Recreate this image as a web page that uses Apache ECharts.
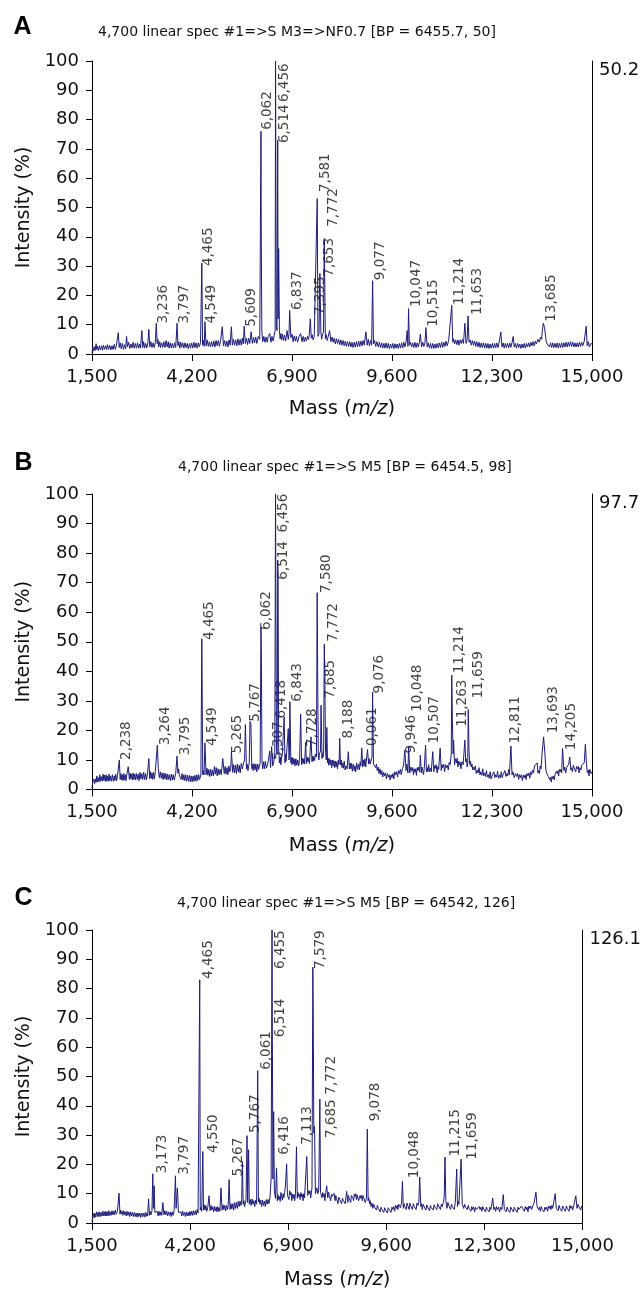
<!DOCTYPE html>
<html><head><meta charset="utf-8">
<script src="https://cdn.jsdelivr.net/npm/echarts@6/dist/echarts.min.js"></script>
<style>html,body{margin:0;padding:0;background:#fff}#c{width:644px;height:1291px}</style>
</head><body><div id="c"></div><script>
// ---------- data ----------
const xTickValues = [1500, 4200, 6900, 9600, 12300, 15000];
const panelLetters = ['A', 'B', 'C'];
const panelTitles = [
  '4,700 linear spec #1=>S M3=>NF0.7 [BP = 6455.7, 50]',
  '4,700 linear spec #1=>S M5 [BP = 6454.5, 98]',
  '4,700 linear spec #1=>S M5 [BP = 64542, 126]'
];
const absMax = [50.2, 97.7, 126.1];

const specA = [[1500,0.5],[1520,2],[1540,1],[1560,2.5],[1585,1.2],[1610,3.5],[1630,1.5],[1650,2.6],[1675,1.2],[1700,2.8],[1730,1.4],[1760,2.8],[1785,1.3],[1810,3],[1840,1.6],[1870,2.8],[1895,1.5],[1920,3.2],[1950,1.6],[1980,2.9],[2010,1.4],[2040,2.8],[2070,1.5],[2100,3.3],[2130,1.6],[2160,3],[2210,7.3],[2235,2.2],[2260,3.8],[2290,1.8],[2320,3.6],[2350,1.6],[2380,3.2],[2410,1.8],[2433,6],[2460,2.5],[2490,4],[2520,1.9],[2550,3.4],[2580,2.1],[2610,4],[2640,2],[2670,3.6],[2700,2],[2730,3.8],[2760,2],[2790,3.4],[2810,2],[2846,8],[2870,2.2],[2895,4.2],[2920,2],[2950,3.6],[2980,2.1],[3010,4],[3035,8.4],[3060,2.4],[3090,4.2],[3120,2.2],[3150,3.8],[3180,2.2],[3210,4],[3236,10.5],[3260,3.5],[3280,5],[3300,2.4],[3330,4.2],[3350,2.2],[3380,3.8],[3410,2.3],[3440,4.2],[3470,2.2],[3500,4.6],[3530,2.4],[3560,4.2],[3580,2],[3610,3.8],[3640,2.1],[3670,3.6],[3700,2],[3730,3.8],[3760,2.2],[3797,10.5],[3820,2.8],[3845,4.2],[3870,2],[3895,4],[3920,2.3],[3950,3.8],[3980,2],[4010,3.8],[4040,2.2],[4070,3.6],[4100,1.8],[4130,3.6],[4160,2],[4190,3.8],[4220,2],[4250,4],[4280,2.2],[4310,3.8],[4340,2],[4370,3.8],[4400,2.4],[4430,4],[4465,31],[4485,3],[4510,4.6],[4530,2.6],[4549,11],[4580,2.8],[4610,4.8],[4640,2.6],[4670,4.2],[4700,2.4],[4730,4.2],[4760,2.6],[4790,4.4],[4820,2.4],[4850,4.6],[4880,2.8],[4910,4.6],[4940,2.6],[4970,4.4],[5018,9.3],[5050,2.8],[5080,4.6],[5110,2.6],[5140,4.4],[5170,2.4],[5200,4.8],[5230,3],[5263,9.3],[5290,3],[5320,5],[5350,3],[5380,4.8],[5410,2.8],[5440,5.2],[5470,3],[5500,5],[5530,3],[5560,5.4],[5585,3.4],[5609,9.5],[5640,3.6],[5670,5.4],[5700,3.2],[5730,5.4],[5760,3.6],[5798,7.6],[5830,3.6],[5860,5.6],[5890,3.8],[5920,5.8],[5950,3.6],[5990,6],[6030,5],[6062,76],[6070,41],[6085,8],[6110,4.2],[6140,6],[6170,4],[6200,5.8],[6230,4],[6260,6],[6299,7],[6330,4],[6360,6],[6390,4.4],[6420,6.4],[6445,8],[6456,100],[6475,10],[6495,8],[6514,73],[6525,12],[6540,36],[6560,8],[6580,5.2],[6600,7],[6620,4.8],[6645,6.8],[6670,4.6],[6700,6.4],[6730,4.4],[6766,8],[6800,5],[6820,7],[6837,14.8],[6870,5.6],[6900,6.8],[6930,4.2],[6960,6.2],[6990,4.4],[7020,6],[7050,4],[7090,6],[7134,7],[7170,4.2],[7200,6],[7230,4.2],[7260,5.8],[7290,4.4],[7320,6],[7345,5],[7365,6.5],[7395,12],[7420,5.4],[7445,6.6],[7470,4.8],[7500,6],[7540,6.5],[7581,53],[7600,6],[7630,7],[7653,27.5],[7680,7.5],[7700,5],[7720,6.5],[7750,7.5],[7772,39.4],[7800,5.2],[7825,6.6],[7850,4.6],[7880,6],[7915,8],[7950,4.2],[7980,5.8],[8010,4],[8040,5.4],[8070,3.4],[8100,5.2],[8130,3.6],[8160,5],[8190,3.2],[8220,4.8],[8250,3],[8280,4.6],[8310,2.8],[8340,4.4],[8370,2.6],[8400,4.2],[8430,2.6],[8460,4.2],[8490,2.4],[8520,4],[8550,2.2],[8580,4],[8610,2.4],[8640,4.2],[8670,2.4],[8700,4.4],[8730,2.6],[8760,4.4],[8790,2.8],[8820,4.6],[8850,3],[8895,7.6],[8930,3],[8960,5],[8990,2.8],[9020,4.6],[9050,3],[9077,25],[9100,3.4],[9130,4.6],[9160,2.6],[9190,4.2],[9230,2.4],[9260,4],[9290,2.2],[9320,3.8],[9350,2],[9380,3.6],[9410,2],[9440,3.8],[9470,2],[9500,3.6],[9530,1.8],[9560,3.4],[9590,2],[9620,3.6],[9650,1.8],[9680,3.5],[9710,2],[9740,3.4],[9770,1.9],[9800,3.6],[9830,2],[9860,3.8],[9890,2.1],[9920,4],[9950,2.4],[9980,4.2],[10009,8],[10030,2.6],[10047,15.5],[10070,3],[10100,4],[10130,2.4],[10160,3.8],[10190,2.2],[10220,4],[10250,2.2],[10280,3.8],[10310,2.4],[10340,4],[10365,6.8],[10400,2.4],[10430,4],[10460,2.6],[10490,3.8],[10515,9],[10550,2.4],[10580,3.8],[10610,2],[10640,3.6],[10670,1.9],[10700,3.6],[10730,1.9],[10760,3.4],[10790,2],[10820,3.6],[10850,2.1],[10880,3.8],[10910,2.2],[10940,4],[10970,2.3],[11000,4],[11030,2.6],[11060,4.4],[11090,2.8],[11130,4.6],[11170,4.5],[11214,16.6],[11240,4],[11265,5.2],[11290,3.4],[11320,4.8],[11350,3.2],[11380,4.8],[11410,3],[11440,4.8],[11470,3.6],[11500,5],[11530,3.6],[11568,10.5],[11600,3.6],[11630,5],[11653,13],[11680,4],[11710,4.8],[11740,3],[11770,4.6],[11800,3],[11830,4.4],[11860,2.6],[11890,4.2],[11920,2.4],[11950,4],[11980,2.2],[12010,3.8],[12040,2.2],[12070,3.8],[12100,2],[12130,3.6],[12160,2],[12190,3.6],[12220,1.9],[12250,3.4],[12280,2],[12310,3.6],[12340,2],[12370,3.6],[12400,2.1],[12430,3.8],[12460,2.2],[12490,3.8],[12538,7.5],[12570,2.4],[12600,3.8],[12630,2],[12660,3.6],[12690,2.2],[12720,3.6],[12750,2.1],[12780,3.8],[12810,2.3],[12840,3.8],[12872,6],[12900,2.4],[12930,3.6],[12960,2],[12990,3.6],[13020,2.2],[13050,3.4],[13080,1.9],[13110,3.4],[13140,2.1],[13170,3.6],[13200,2],[13230,3.6],[13260,2.4],[13290,3.8],[13320,2.4],[13350,4],[13380,2.8],[13410,4.2],[13440,2.8],[13470,4.4],[13500,3.4],[13540,5],[13580,4],[13610,5.8],[13640,5],[13660,8],[13685,10.5],[13720,9],[13760,4.6],[13790,3.4],[13820,4],[13850,2.4],[13880,3.8],[13910,2.2],[13940,3.8],[13970,2.2],[14000,3.6],[14030,2.2],[14060,3.8],[14090,2],[14120,3.6],[14150,2.2],[14180,3.8],[14210,2.2],[14240,3.8],[14270,2.4],[14300,4],[14330,2.4],[14360,4],[14390,2.6],[14420,4.2],[14450,2.6],[14480,4],[14510,2.4],[14540,3.8],[14570,2.4],[14600,3.8],[14630,2.4],[14660,4],[14690,2.6],[14720,4],[14750,2.8],[14790,4.4],[14843,9.5],[14870,2.8],[14900,4.2],[14930,2.4],[14970,3.6],[15000,3.4]];

const specB = [[1500,0.5],[1520,2.5],[1550,3.5],[1570,2],[1590,3.6],[1610,2.4],[1630,4.6],[1650,2.6],[1670,4],[1690,2.6],[1710,5],[1730,2.8],[1750,4.4],[1775,2.8],[1800,5.2],[1820,3],[1840,4.8],[1860,2.8],[1880,5],[1900,2.8],[1920,4.6],[1940,2.8],[1960,5.2],[1980,3],[2000,4.6],[2025,2.8],[2050,5],[2075,2.8],[2100,4.6],[2120,3],[2140,5.2],[2165,3],[2190,4.8],[2238,10],[2260,3.4],[2280,5.4],[2300,3.2],[2320,5],[2340,3],[2360,5.4],[2380,3.2],[2400,5],[2420,3],[2440,5],[2478,7.7],[2510,3.4],[2530,5.6],[2550,3.6],[2570,5.2],[2590,3.2],[2610,5.6],[2630,3.4],[2650,5.2],[2670,3.2],[2695,5.4],[2720,3.4],[2745,5.2],[2770,3],[2795,5.8],[2820,3.6],[2845,5.4],[2870,3.4],[2895,5.8],[2920,3.4],[2945,5.4],[2970,3.2],[3000,5.6],[3035,10.5],[3060,3.6],[3080,6],[3100,3.8],[3120,5.6],[3140,3.4],[3160,5.8],[3185,3.6],[3210,6.2],[3230,6],[3264,15],[3290,7],[3320,4],[3345,6],[3370,3.8],[3395,5.6],[3420,3.4],[3445,5.6],[3470,3.6],[3495,5.4],[3520,3.2],[3545,5.2],[3570,3.4],[3595,5],[3620,3],[3645,5.2],[3670,3.2],[3695,5],[3720,3.2],[3760,5.5],[3795,11.3],[3820,5.5],[3840,7],[3860,4.6],[3880,5],[3905,3.4],[3930,5.4],[3955,3.2],[3980,5],[4005,3],[4030,5],[4055,2.8],[4080,4.8],[4105,2.8],[4130,4.8],[4155,2.6],[4180,4.6],[4205,2.6],[4230,4.6],[4255,2.8],[4280,4.8],[4305,2.8],[4330,5],[4355,3],[4380,5],[4405,3.4],[4440,5],[4465,51],[4490,5],[4510,6.4],[4525,5],[4549,15.8],[4580,5],[4605,7.2],[4630,4.8],[4655,6.8],[4680,4.4],[4705,6.8],[4730,4.6],[4755,6.6],[4780,4.6],[4805,7.8],[4830,5.2],[4855,7.4],[4880,4.6],[4905,7],[4930,5],[4960,6.8],[4990,5],[5030,10.5],[5070,5.4],[5095,7.8],[5120,5.2],[5145,7.4],[5170,5],[5195,8],[5220,6],[5245,7],[5265,12.8],[5300,5.8],[5325,8.4],[5350,5.6],[5375,8.2],[5400,5.4],[5425,8.6],[5450,6],[5475,8.2],[5500,5.6],[5530,8.8],[5560,7],[5590,9],[5620,10],[5642,22],[5670,7],[5690,8.6],[5710,6.4],[5745,9],[5767,23],[5790,22],[5815,7],[5835,8.6],[5850,6.4],[5875,8.8],[5900,6.6],[5925,8.6],[5950,6],[5975,8.6],[6000,6.8],[6040,9],[6062,55],[6072,47],[6090,9],[6110,7],[6130,9.4],[6155,7],[6180,9.6],[6210,7.2],[6250,9],[6299,13],[6320,7.4],[6350,14.5],[6380,8],[6410,9.5],[6435,12],[6456,100],[6466,60],[6480,14],[6500,12],[6514,77.5],[6524,72],[6540,14],[6560,9],[6580,11],[6600,8.4],[6620,10.8],[6640,12],[6688,24.6],[6710,9],[6725,12],[6740,9.6],[6770,10],[6800,20.6],[6820,10],[6830,12],[6843,29.7],[6870,9],[6885,10.8],[6900,8.4],[6920,10.8],[6940,8.6],[6960,10.4],[6980,8],[7005,10.4],[7030,8.2],[7055,10],[7080,8],[7105,9.8],[7134,25.5],[7160,8.4],[7180,10.6],[7200,8.8],[7220,10.4],[7240,8.6],[7268,16],[7290,8.8],[7310,11],[7330,9.4],[7350,10.6],[7370,8.8],[7413,17.8],[7440,9.4],[7455,11.2],[7470,9.6],[7490,11.2],[7510,9.8],[7530,12],[7560,11],[7580,66.6],[7592,40.6],[7610,12],[7625,10],[7640,12],[7670,13],[7685,28.5],[7710,10.4],[7725,12.4],[7740,11],[7755,14],[7772,49.2],[7785,40.6],[7805,13],[7825,10],[7840,21],[7860,9],[7875,10.6],[7890,8.2],[7910,10.4],[7930,8.4],[7950,10],[7970,7.4],[7990,10],[8010,8],[8030,9.8],[8050,7.4],[8070,9.6],[8090,7.6],[8110,9.4],[8130,7],[8150,10],[8170,8.4],[8188,17.3],[8210,8.4],[8230,10],[8250,7.4],[8270,9],[8290,7.2],[8310,9.6],[8335,6.6],[8360,8],[8390,7],[8420,12.8],[8450,7],[8470,9],[8490,7],[8510,8.8],[8530,6.2],[8555,8.6],[8580,6.4],[8600,8],[8620,6],[8645,9],[8670,6.8],[8695,8.6],[8720,6.6],[8740,9.4],[8760,8],[8783,14],[8810,7.6],[8830,10],[8850,8],[8870,10.4],[8890,7.6],[8939,13.5],[8970,8.6],[8990,10.4],[9010,8.6],[9040,9],[9060,11],[9076,33],[9100,8.6],[9130,9.2],[9160,7.4],[9180,8.6],[9200,6.4],[9225,7.6],[9250,5.4],[9275,7],[9300,5],[9325,6.4],[9350,4.2],[9375,5.8],[9400,4.6],[9425,5.6],[9450,3.6],[9475,5.4],[9500,4.2],[9525,5],[9550,3.2],[9575,5],[9600,4],[9625,5.4],[9650,3.6],[9675,6],[9700,5],[9725,6],[9750,4.2],[9775,6.4],[9800,5.4],[9825,6.8],[9850,5],[9880,7],[9910,8],[9946,13.3],[9980,6.4],[10000,8.6],[10010,8],[10030,5.6],[10048,14.7],[10080,5.6],[10110,7.6],[10140,6.2],[10160,7.4],[10180,5],[10200,7],[10220,5.8],[10240,7],[10260,4.8],[10280,7.4],[10300,6.4],[10320,7.6],[10345,6],[10365,11.6],[10390,5.6],[10410,7.6],[10430,6.4],[10450,5],[10470,7],[10490,6.4],[10507,15],[10530,6],[10550,7.4],[10570,6],[10590,8.4],[10610,6],[10630,7.2],[10660,6],[10700,12.8],[10730,6],[10750,8],[10770,7.2],[10790,8.4],[10820,5.6],[10840,7.8],[10860,6.8],[10900,14],[10930,6.4],[10950,8.4],[10970,7.4],[10995,8.6],[11020,6],[11045,8.4],[11070,7.4],[11095,8.2],[11120,6.6],[11145,9.2],[11170,8.4],[11200,12],[11214,38.7],[11230,23.5],[11250,12],[11263,16.7],[11290,8.4],[11315,10.4],[11340,9],[11360,10.6],[11380,7.6],[11400,9.6],[11420,8.4],[11440,9.2],[11460,7],[11490,9.4],[11520,8.4],[11568,16.7],[11590,9.4],[11610,10.4],[11630,7.6],[11645,9],[11659,27],[11680,12.8],[11700,8.4],[11720,9.6],[11740,7.6],[11760,8.6],[11780,6.6],[11800,7.6],[11825,6.6],[11850,8],[11875,5.4],[11900,6.6],[11925,5.6],[11950,7.4],[11975,5],[12000,6],[12025,4.8],[12050,7],[12075,4.6],[12100,5.6],[12125,4.4],[12150,6.4],[12175,4.2],[12200,5],[12225,3.8],[12250,6],[12275,3.6],[12300,4.6],[12325,4],[12350,6],[12375,4],[12400,5],[12425,4.2],[12450,6.2],[12475,3.8],[12500,4.8],[12525,4],[12550,6],[12575,4],[12600,5],[12625,4.4],[12650,6.4],[12675,4.4],[12700,5.4],[12725,4.6],[12750,6.8],[12770,5],[12790,5.6],[12811,14.7],[12840,5],[12865,6],[12900,4],[12935,5.4],[12970,4.4],[12995,5.4],[13020,3.4],[13045,5],[13070,4],[13095,5],[13120,3],[13145,4.8],[13170,4],[13195,5],[13220,3.4],[13245,5.4],[13270,4.6],[13295,5.6],[13320,3.8],[13345,6],[13370,5],[13395,6.6],[13420,5.6],[13450,8],[13480,7.5],[13520,9],[13540,5.6],[13560,6.4],[13580,5.4],[13600,8],[13625,7],[13650,12],[13693,17.8],[13730,12],[13755,6.6],[13780,5.4],[13800,6],[13820,4.4],[13840,5],[13860,3.2],[13880,4.2],[13900,2.5],[13920,4.4],[13940,3.6],[13960,4.6],[13980,3.2],[14000,5],[14020,4.4],[14040,6.2],[14060,5.4],[14080,6.4],[14100,4.6],[14120,6.8],[14140,6],[14160,6.8],[14180,5.6],[14205,13.9],[14240,6.4],[14265,7.6],[14290,5.6],[14315,7.4],[14340,7.4],[14370,8.6],[14400,11],[14430,6.6],[14450,7.4],[14470,6],[14495,8.2],[14520,7.6],[14540,8.4],[14560,6],[14585,7.8],[14610,7],[14630,7.8],[14650,5.6],[14675,7.4],[14700,6.6],[14730,8.4],[14760,8],[14790,9],[14821,15.3],[14850,9],[14865,6.6],[14880,5.6],[14900,6.6],[14920,4.6],[14940,6.8],[14960,7],[14980,5.4],[15000,6]];

const specC = [[1500,0.5],[1520,2],[1540,3.2],[1560,1.8],[1580,3.4],[1600,2],[1630,3.8],[1650,2.2],[1670,3.6],[1690,2.2],[1710,3.8],[1730,2.2],[1750,3.6],[1775,2.4],[1800,4],[1820,2.4],[1840,3.8],[1860,2.4],[1880,4],[1900,2.4],[1920,3.8],[1940,2.4],[1960,4.2],[1980,2.6],[2000,3.8],[2025,2.6],[2050,4.2],[2075,2.8],[2100,4],[2120,2.8],[2140,4.4],[2170,3],[2200,4],[2244,10.2],[2270,3],[2290,4.4],[2310,3.2],[2330,4],[2350,2.6],[2375,4.2],[2400,2.8],[2420,3.8],[2440,2.4],[2465,4],[2490,2.6],[2515,3.8],[2540,2.2],[2565,3.8],[2590,2.4],[2615,3.6],[2640,2.2],[2665,3.6],[2690,2.2],[2715,3.4],[2740,2],[2765,3.4],[2790,2.2],[2815,3.4],[2840,1.9],[2865,3.4],[2890,2.2],[2915,3.4],[2940,2],[2965,3.6],[2990,2.2],[3010,3.4],[3030,2.4],[3058,8.2],[3080,2.6],[3100,4],[3120,2.8],[3150,4],[3173,16.8],[3190,5],[3210,12.7],[3230,3.6],[3250,4.2],[3270,3],[3295,4],[3320,2.4],[3345,4],[3370,2.6],[3395,3.8],[3420,2.6],[3450,7],[3480,2.8],[3505,4.2],[3530,2.8],[3555,4],[3580,2.4],[3605,3.8],[3630,2.6],[3655,3.8],[3680,2.2],[3705,3.8],[3730,2.6],[3760,4.2],[3775,4],[3797,16.1],[3815,5],[3850,12],[3880,3.6],[3900,4.2],[3920,3],[3945,3.8],[3970,2.4],[3995,4],[4020,2.6],[4045,3.6],[4070,2.2],[4095,3.8],[4120,2.4],[4145,3.6],[4170,2.4],[4195,4],[4220,2.6],[4245,4],[4270,2.6],[4295,4.2],[4320,2.8],[4345,4.2],[4370,2.8],[4395,4.6],[4420,3.4],[4450,4],[4465,83],[4480,4.4],[4500,5.4],[4520,4],[4550,24.4],[4570,4.4],[4590,6.2],[4610,4.4],[4635,6],[4660,4],[4690,5.6],[4720,9.3],[4750,4.2],[4775,6],[4800,4.4],[4825,5.6],[4850,3.8],[4875,5.6],[4900,4.2],[4920,5.4],[4940,3.8],[4960,5.6],[4980,4],[5000,5.2],[5020,4],[5050,12],[5080,4.4],[5105,6.2],[5130,4.6],[5155,6],[5180,4.2],[5205,6],[5230,4.6],[5250,6],[5274,14.8],[5300,4.6],[5325,6.6],[5350,4.8],[5375,6.6],[5400,4.4],[5425,7],[5450,5],[5475,7],[5500,5],[5525,7.4],[5550,5.6],[5575,7.4],[5600,6],[5620,8],[5640,21],[5660,6.4],[5680,7.6],[5700,5.6],[5740,8],[5767,29.8],[5785,7],[5810,25],[5830,6.4],[5855,8],[5880,6],[5905,8.2],[5930,6.4],[5955,7.6],[5980,5.6],[6005,7.8],[6030,6.4],[6061,52],[6080,7.2],[6100,8.4],[6120,6.4],[6145,7.8],[6170,5.6],[6195,7.8],[6220,6],[6245,7.4],[6270,5.6],[6295,8],[6320,6.4],[6345,8],[6370,6.6],[6400,9],[6430,15],[6455,100],[6465,62],[6480,15],[6500,38],[6520,11],[6550,8.4],[6580,18.8],[6600,7.6],[6620,9.6],[6640,8],[6660,9],[6680,7.4],[6700,10.4],[6720,9],[6740,7.8],[6760,10],[6780,8.6],[6800,10.4],[6820,12],[6857,20.2],[6880,9.4],[6900,10],[6920,8],[6940,11],[6960,9.6],[6980,10.4],[7000,7.6],[7020,9.8],[7040,8.4],[7060,9.8],[7080,7.6],[7100,10],[7128,26],[7150,8.4],[7170,10.4],[7190,9],[7210,9.8],[7230,8],[7250,10.4],[7270,9],[7290,9.8],[7310,7.6],[7330,10],[7350,8.6],[7380,8],[7411,22.7],[7440,9.4],[7460,11],[7480,10],[7500,11],[7520,8.6],[7555,12],[7579,87.3],[7589,72.5],[7605,30.7],[7625,33],[7650,10],[7670,11],[7690,12],[7715,10],[7740,11],[7772,42.3],[7790,10.4],[7810,11],[7830,8.6],[7850,10.4],[7870,9],[7890,10],[7910,7.6],[7935,10.4],[7960,12.7],[7990,8.6],[8010,10.6],[8030,9.4],[8050,10],[8070,7.6],[8090,9.8],[8110,9],[8140,9],[8160,10.2],[8190,7.6],[8210,9.4],[8230,8.4],[8250,9],[8270,6.6],[8295,8.8],[8320,8],[8345,8.4],[8370,6.6],[8395,8.4],[8420,7.6],[8445,8.2],[8470,6.6],[8510,10.8],[8540,7],[8560,9.4],[8580,8.4],[8600,9],[8620,7],[8640,9.4],[8660,10],[8680,8.6],[8700,7.6],[8720,9.8],[8740,9],[8760,10],[8780,8],[8800,9.6],[8820,10],[8840,7.6],[8860,8.4],[8880,9.4],[8900,8.4],[8920,9.4],[8940,7.6],[8960,9.4],[8980,8.6],[9000,8.8],[9020,7],[9055,8.5],[9078,32],[9100,7.6],[9120,8.6],[9140,6.6],[9160,7.6],[9180,5.6],[9205,6.8],[9230,5],[9255,6.4],[9280,5.4],[9305,6],[9330,4.4],[9355,6],[9380,5],[9405,5.6],[9430,3.8],[9455,5.4],[9480,4.6],[9505,5.2],[9530,3.6],[9555,5.2],[9580,4.4],[9605,5],[9630,3.4],[9655,5.2],[9680,4.6],[9705,5.2],[9730,3.6],[9755,5.4],[9780,4.6],[9805,5.6],[9830,4],[9855,6],[9880,5],[9900,6],[9920,4.6],[9940,6.4],[9960,6.5],[9990,5.2],[10020,6.8],[10045,14.2],[10070,5],[10090,6.6],[10110,5.6],[10130,6.2],[10150,4.6],[10170,6.8],[10190,6],[10210,6.4],[10230,4.6],[10250,6.8],[10270,6],[10295,6.4],[10320,4.6],[10345,6.6],[10370,5.6],[10395,6],[10420,4.6],[10445,6.8],[10470,6],[10495,7],[10520,15.7],[10550,5.6],[10570,6.6],[10590,4.6],[10615,6.4],[10640,5.6],[10665,6],[10690,4.4],[10715,6.2],[10740,5.4],[10765,5.6],[10790,4.2],[10815,6],[10840,5.2],[10865,5.8],[10890,4.4],[10915,6.2],[10940,5.4],[10965,6],[10990,4.6],[11015,6.6],[11040,5.8],[11065,6],[11090,4.6],[11115,6.4],[11140,5.6],[11170,7],[11195,9],[11215,22.5],[11240,7.6],[11255,6.2],[11270,5],[11295,7],[11320,6],[11345,6.6],[11370,4.6],[11395,6.4],[11420,5.6],[11445,6.2],[11470,4.6],[11500,7],[11538,18.4],[11560,5.6],[11580,7.4],[11600,6.4],[11630,6],[11659,21.8],[11690,6.4],[11710,7],[11730,5],[11755,6.4],[11780,5.4],[11805,6],[11830,4.6],[11855,6],[11880,5],[11905,5.6],[11930,4],[11955,5.6],[11980,4.6],[12005,5.4],[12030,3.8],[12055,5.4],[12080,4.6],[12105,5.2],[12130,4],[12155,5.6],[12180,4.6],[12205,5.4],[12230,4],[12255,5.6],[12280,4.8],[12305,5.4],[12330,3.8],[12355,5.4],[12380,4.6],[12405,5.2],[12430,3.8],[12455,5.4],[12480,4.6],[12530,8.5],[12560,4.6],[12585,5.4],[12610,4],[12635,5.6],[12660,4.6],[12690,5.4],[12720,3.8],[12750,5.4],[12780,4.6],[12820,9.7],[12850,4.6],[12875,5.2],[12900,3.8],[12925,5.4],[12950,4.6],[12975,5.2],[13000,3.6],[13025,5.4],[13050,4.8],[13075,5.4],[13100,3.8],[13125,5.4],[13150,4.6],[13175,5.2],[13200,3.6],[13225,5.4],[13250,4.6],[13275,5.2],[13300,4],[13325,5.8],[13350,5],[13375,5.6],[13400,4],[13425,5.6],[13450,4.6],[13475,5.4],[13500,3.8],[13525,5.8],[13550,5],[13575,5.8],[13600,4.6],[13640,6],[13670,7],[13720,10.5],[13750,5.6],[13770,6],[13790,4.6],[13815,5.4],[13840,4],[13865,5.6],[13890,4.6],[13915,5.2],[13940,3.8],[13965,5.4],[13990,4.6],[14015,5.4],[14040,4],[14065,5.8],[14090,5],[14110,5.8],[14130,4.6],[14160,6],[14180,5],[14250,10],[14280,5],[14305,5.6],[14330,4.2],[14355,6],[14380,5],[14405,5.4],[14430,4],[14455,5.8],[14480,5],[14505,5.6],[14530,4],[14555,5.8],[14580,5],[14605,5.4],[14630,4],[14655,6],[14680,5],[14705,5.8],[14730,4.4],[14760,6],[14780,5.4],[14817,9.3],[14850,5],[14875,6.4],[14900,5.6],[14925,6],[14950,4.4],[14975,5.8],[15000,5]];

// peak labels: [mass where the label stands, intensity where its text starts, text]
const peaksA = [[3236,10.4,'3,236'],[3797,10.4,'3,797'],[4465,30,'4,465'],[4549,10.4,'4,549'],[5609,9.3,'5,609'],[6040,76.5,'6,062'],[6520,86,'6,456'],[6520,72,'6,514'],[6850,15,'6,837'],[7470,13.3,'7,395'],[7620,55.3,'7,581'],[7720,26.4,'7,653'],[7830,43.4,'7,772'],[9110,25.2,'9,077'],[10070,16,'10,047'],[10523,9.3,'10,515'],[11236,16.7,'11,214'],[11720,13.3,'11,653'],[13720,11,'13,685']];
const peaksB = [[2246,10,'2,238'],[3305,15,'3,264'],[3828,11.6,'3,795'],[4474,50.6,'4,465'],[4552,14.7,'4,549'],[5232,12.2,'5,265'],[5733,22.9,'5,767'],[6346,10,'5,307'],[6034,54,'6,062'],[6435,24,'6,418'],[6480,87,'6,456'],[6480,71,'6,514'],[6858,29.7,'6,843'],[7259,14.4,'7,728'],[7649,66.5,'7,580'],[7839,50,'7,772'],[7750,30.8,'7,685'],[8229,17.3,'8,188'],[8875,14.7,'0,061'],[9064,32.5,'9,076'],[9933,12.2,'9,946'],[10100,26.3,'10,048'],[10568,15.6,'10,507'],[11236,39.3,'11,214'],[11325,21.2,'11,263'],[11738,30.8,'11,659'],[12740,15.6,'12,811'],[13776,19,'13,693'],[14255,13.3,'14,205']];
const peaksC = [[3241,17,'3,173'],[3863,16.5,'3,797'],[4520,83.3,'4,465'],[4650,23.9,'4,550'],[5330,15.9,'5,267'],[5800,30.7,'5,767'],[6100,52.3,'6,061'],[6500,86.7,'6,455'],[6500,63.4,'6,514'],[6600,23.3,'6,416'],[7250,26.7,'7,113'],[7594,86.7,'7,579'],[7900,43.8,'7,772'],[7900,29,'7,685'],[9121,34.7,'9,078'],[10172,15.3,'10,048'],[11303,22.7,'11,215'],[11778,21.6,'11,659']];

// ---------- layout / style ----------
const spectra = [specA, specB, specC];
const peakLabels = [peaksA, peaksB, peaksC];
const grids = [
  {left: 92, top: 61, width: 500, height: 293},
  {left: 92, top: 494, width: 500, height: 295.5},
  {left: 92, top: 930, width: 493, height: 293}
];
const letterPos = [[22.5, 27.5], [23.5, 463.5], [23.5, 898]];
const titlePos = [[98, 32.5], [178, 467.5], [177, 903]];
const nameGaps = [45, 46, 47];
const FONT = 'DejaVu Sans';
const INK = '#111';
const LINE = '#1c1c7c';

const option = {
  animation: false,
  backgroundColor: '#fff',
  grid: grids.map(g => Object.assign({containLabel: false}, g)),
  xAxis: grids.map((g, i) => ({
    type: 'value', gridIndex: i, min: 1500, max: 15000,
    axisLine: {show: true, onZero: false, lineStyle: {color: '#000', width: 1}},
    axisTick: {show: true, customValues: xTickValues, length: 7, lineStyle: {color: '#000', width: 1}},
    axisLabel: {customValues: xTickValues, margin: 14, fontSize: 18, color: INK, fontFamily: FONT,
      formatter: v => Number(v).toLocaleString('en-US')},
    splitLine: {show: false},
    name: '{n|Mass (}{i|m/z}{n|)}', nameLocation: 'middle', nameGap: nameGaps[i],
    nameTextStyle: {fontFamily: FONT, fontSize: 19.5, color: INK,
      rich: {n: {fontFamily: FONT, fontSize: 19.5, color: INK}, i: {fontFamily: FONT, fontSize: 19.5, color: INK, fontStyle: 'italic'}}}
  })),
  yAxis: [].concat(...grids.map((g, i) => [
    {
      type: 'value', gridIndex: i, min: 0, max: 100, interval: 10, position: 'left',
      axisLine: {show: true, lineStyle: {color: '#000', width: 1}},
      axisTick: {show: true, length: 6, lineStyle: {color: '#000', width: 1}},
      axisLabel: {margin: 13, fontSize: 18, color: INK, fontFamily: FONT},
      splitLine: {show: false},
      name: 'Intensity (%)', nameLocation: 'middle', nameGap: 58,
      nameTextStyle: {fontFamily: FONT, fontSize: 19, color: INK}
    },
    {
      type: 'value', gridIndex: i, min: 0, max: absMax[i], interval: absMax[i], position: 'right',
      axisLine: {show: true, lineStyle: {color: '#000', width: 1}},
      axisTick: {show: false},
      axisLabel: {show: true, margin: 7, fontSize: 18, color: INK, fontFamily: FONT, verticalAlign: 'top',
        formatter: v => (v > 0 ? String(absMax[i]) : '')},
      splitLine: {show: false}
    }
  ])),
  series: [].concat(...grids.map((g, i) => [
    {
      type: 'line', xAxisIndex: i, yAxisIndex: 2 * i, data: spectra[i],
      showSymbol: false, symbol: 'none', silent: true, clip: true,
      lineStyle: {color: LINE, width: 1}
    },
    {
      type: 'scatter', xAxisIndex: i, yAxisIndex: 2 * i, data: peakLabels[i],
      symbolSize: 0, silent: true,
      label: {show: true, position: 'inside', rotate: 90, align: 'left', verticalAlign: 'top',
        fontFamily: FONT, fontSize: 13.5, color: INK, formatter: p => p.value[2]}
    }
  ])),
  graphic: [].concat(
    panelLetters.map((t, i) => ({
      type: 'text', x: letterPos[i][0], y: letterPos[i][1], silent: true,
      style: {text: t, fill: '#000', font: 'bold 25px "Liberation Sans", Arial, sans-serif',
        textAlign: 'center', align: 'center', textVerticalAlign: 'middle', verticalAlign: 'middle'}
    })),
    panelTitles.map((t, i) => ({
      type: 'text', x: titlePos[i][0], y: titlePos[i][1], silent: true,
      style: {text: t, fill: INK, font: '14px "DejaVu Sans", sans-serif',
        textAlign: 'left', align: 'left', textVerticalAlign: 'middle', verticalAlign: 'middle'}
    }))
  )
};

const chart = echarts.init(document.getElementById('c'), null, {renderer: 'canvas', width: 644, height: 1291});
chart.setOption(option);
</script></body></html>
